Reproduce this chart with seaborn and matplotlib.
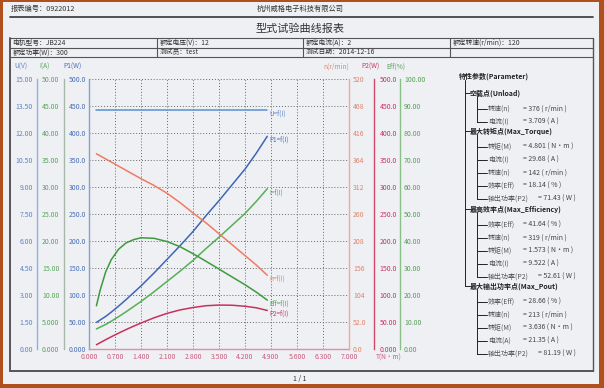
import numpy as np
import pandas as pd
import matplotlib
matplotlib.use("Agg")
import matplotlib.pyplot as plt
import seaborn as sns
from matplotlib.lines import Line2D
from matplotlib.patches import Rectangle

# ---------------- data ----------------
torque = [0.20, 0.30, 0.45, 0.60, 0.80, 1.00, 1.20, 1.40, 1.75, 2.10, 2.45, 2.80, 3.15, 3.50, 3.85, 4.20, 4.50, 4.80]
voltage = [13.27, 13.27, 13.27, 13.27, 13.27, 13.27, 13.27, 13.27, 13.27, 13.27, 13.27, 13.27, 13.27, 13.27, 13.27, 13.27, 13.27, 13.27]
current = [3.71, 4.05, 4.55, 5.15, 6.00, 6.90, 7.85, 8.80, 10.6, 12.5, 14.4, 16.4, 18.6, 20.7, 22.9, 25.1, 27.3, 29.68]
input_power = [49.2, 53.7, 60.4, 68.3, 79.6, 91.6, 104.2, 116.8, 140.7, 165.9, 191.1, 217.6, 246.8, 274.7, 303.9, 333.1, 362.3, 393.9]
speed = [376, 372, 366, 360, 352, 344, 336, 328, 315, 300, 282, 262, 243, 222, 201, 180, 162, 142]
output_power = [7.87, 11.69, 17.25, 22.62, 29.49, 36.02, 42.22, 48.09, 57.73, 65.97, 72.34, 76.82, 80.16, 81.37, 81.04, 79.17, 76.34, 71.38]
efficiency = [16.0, 21.8, 28.6, 33.1, 37.0, 39.3, 40.5, 41.2, 41.0, 39.8, 37.9, 35.3, 32.5, 29.6, 26.7, 23.8, 21.1, 18.1]

x_ticks = [0.0, 0.7, 1.4, 2.1, 2.8, 3.5, 4.2, 4.9, 5.6, 6.3, 7.0]
x_tick_labels = ["0.000", "0.700", "1.400", "2.100", "2.800", "3.500", "4.200", "4.900", "5.600", "6.300", "7.000"]
u_ticks = [0, 1.5, 3, 4.5, 6, 7.5, 9, 10.5, 12, 13.5, 15]
u_tick_labels = ["0.00", "1.50", "3.00", "4.50", "6.00", "7.50", "9.00", "10.50", "12.00", "13.50", "15.00"]
i_ticks = [0, 5, 10, 15, 20, 25, 30, 35, 40, 45, 50]
i_tick_labels = ["0.000", "5.000", "10.00", "15.00", "20.00", "25.00", "30.00", "35.00", "40.00", "45.00", "50.00"]
p1_ticks = [0, 50, 100, 150, 200, 250, 300, 350, 400, 450, 500]
p1_tick_labels = ["0.000", "50.00", "100.0", "150.0", "200.0", "250.0", "300.0", "350.0", "400.0", "450.0", "500.0"]
n_ticks = [0, 52, 104, 156, 208, 260, 312, 364, 416, 468, 520]
n_tick_labels = ["0.0", "52.0", "104", "156", "208", "260", "312", "364", "416", "468", "520"]
p2_ticks = [0, 50, 100, 150, 200, 250, 300, 350, 400, 450, 500]
p2_tick_labels = ["0.000", "50.00", "100.0", "150.0", "200.0", "250.0", "300.0", "350.0", "400.0", "450.0", "500.0"]
eff_ticks = [0, 10, 20, 30, 40, 50, 60, 70, 80, 90, 100]
eff_tick_labels = ["0.00", "10.00", "20.00", "30.00", "40.00", "50.00", "60.00", "70.00", "80.00", "90.00", "100.00"]

axis_titles = ["U(V)", "I(A)", "P1(W)", "n(r/min)", "P2(W)", "Eff(%)"]
curve_names = ["U=f(I)", "P1=f(I)", "I=f(I)", "n=f(I)", "Eff=f(I)", "P2=f(I)"]
x_title = "T(N·m)"

report_no = "报表编号：0922012"
company = "杭州威格电子科技有限公司"
title = "型式试验曲线报表"
table_rows = [
    ["电机型号：JB224", "额定电压(V)：12", "额定电流(A)：2", "额定转速(r/min)：120"],
    ["额定功率(W)：300", "测试员：test", "测试日期：2014-12-16", ""],
]
page_label = "1 / 1"

param_title = "特性参数(Parameter)"
param_groups = ["空载点(Unload)", "最大转矩点(Max_Torque)", "最高效率点(Max_Efficiency)", "最大输出功率点(Max_Pout)"]
param_items = [
    [("转速(n)", "= 376 ( r/min )"), ("电流(I)", "= 3.709 ( A )")],
    [("转矩(M)", "= 4.801 ( N·m )"), ("电流(I)", "= 29.68 ( A )"), ("转速(n)", "= 142 ( r/min )"),
     ("效率(Eff)", "= 18.14 ( % )"), ("输出功率(P2)", "= 71.43 ( W )")],
    [("效率(Eff)", "= 41.64 ( % )"), ("转速(n)", "= 319 ( r/min )"), ("转矩(M)", "= 1.573 ( N·m )"),
     ("电流(I)", "= 9.522 ( A )"), ("输出功率(P2)", "= 52.61 ( W )")],
    [("效率(Eff)", "= 28.66 ( % )"), ("转速(n)", "= 213 ( r/min )"), ("转矩(M)", "= 3.636 ( N·m )"),
     ("电流(A)", "= 21.35 ( A )"), ("输出功率(P2)", "= 81.19 ( W )")],
]

# ---------------- style ----------------
sns.set_style("white")
plt.rcParams["font.family"] = ["Noto Sans CJK SC", "DejaVu Sans"]
plt.rcParams["axes.unicode_minus"] = False

W, H = 604, 388
fig = plt.figure(figsize=(W / 100, H / 100), dpi=100)
fig.patch.set_facecolor("#b0501f")


def fx(x):
    return x / W


def fy(y):
    return 1 - y / H


def hline(x0, x1, y, color="#555555", lw=0.8):
    fig.add_artist(Line2D([fx(x0), fx(x1)], [fy(y), fy(y)], transform=fig.transFigure, color=color, lw=lw))


def vline(x, y0, y1, color="#555555", lw=0.8):
    fig.add_artist(Line2D([fx(x), fx(x)], [fy(y0), fy(y1)], transform=fig.transFigure, color=color, lw=lw))


# page
fig.add_artist(Rectangle((fx(3), fy(384)), (599 - 3) / W, (384 - 2) / H, transform=fig.transFigure,
                         facecolor="#eef0f4", edgecolor="none", zorder=-5))

TXT = "#333333"
fig.text(fx(11), fy(9), report_no, fontsize=5.2, color=TXT, va="center", ha="left")
fig.text(fx(300), fy(9), company, fontsize=5.2, color=TXT, va="center", ha="center")
hline(10, 593, 16.5, color="#444444", lw=1.3)
fig.text(fx(300), fy(28.5), title, fontsize=8.0, color=TXT, va="center", ha="center")

# table + box
tab_top, tab_mid, tab_bot, box_bot = 37.5, 47.5, 57.0, 371
col_x = [10, 157, 303, 450, 593]
hline(10, 593, tab_top)
hline(10, 593, tab_mid)
hline(10, 593, tab_bot)
hline(10, 593, box_bot, color="#555555", lw=1.4)
vline(10, tab_top, box_bot, lw=1.4)
vline(593, tab_top, box_bot, lw=1.0)
for cx in col_x[1:-1]:
    vline(cx, tab_top, tab_bot)
for r, row in enumerate(table_rows):
    yy = (tab_top + tab_mid) / 2 if r == 0 else (tab_mid + tab_bot) / 2
    for c, s in enumerate(row):
        if s:
            fig.text(fx(col_x[c] + 2.5), fy(yy), s, fontsize=4.9, color=TXT, va="center", ha="left")
fig.text(fx(300), fy(379), page_label, fontsize=5, color=TXT, va="center", ha="center")

# ---------------- chart ----------------
L, R, T_, B = 89, 349, 79, 349
rect = [fx(L), fy(B), (R - L) / W, (B - T_) / H]
ax = fig.add_axes(rect)
ax.set_facecolor("none")

C_U, C_I, C_P1 = "#5b8fd6", "#55b055", "#3f66b5"
C_N, C_P2, C_E = "#ef7b64", "#c8325a", "#3e9a3e"
L_U, L_I, L_P1 = "#5d84c8", "#5aa55a", "#4a6fb5"
L_N, L_P2, L_E = "#e0846a", "#c8365a", "#5a9e5a"

FS = 5.0


def side_axis(ylim, ticks, labels, side, pos, spine_color, label_color, pad):
    a = fig.add_axes(rect, sharex=ax)
    a.set_facecolor("none")
    a.patch.set_visible(False)
    for s in a.spines.values():
        s.set_visible(False)
    a.spines[side].set_visible(True)
    a.spines[side].set_color(spine_color)
    a.spines[side].set_linewidth(1.0)
    a.spines[side].set_position(("axes", pos))
    a.yaxis.set_ticks_position(side)
    a.xaxis.set_visible(False)
    a.set_ylim(*ylim)
    a.set_yticks(ticks, labels=labels)
    a.tick_params(axis="y", length=0, pad=pad, labelsize=FS, labelcolor=label_color)
    a.grid(False)
    return a


# P1 axis = main axis (left edge of the plot)
ax.set_xlim(0, 7)
ax.set_ylim(0, 500)
ax.set_xticks(x_ticks, labels=x_tick_labels)
ax.set_yticks(p1_ticks, labels=p1_tick_labels)
ax.tick_params(axis="y", length=0, pad=2.2, labelsize=FS, labelcolor=L_P1)
ax.tick_params(axis="x", length=0, pad=3.0, labelsize=FS, labelcolor="#d05a7a")
ax.grid(True, linestyle=(0, (1.0, 2.0)), color="#666666", lw=0.7)
for s in ["top", "right"]:
    ax.spines[s].set_visible(False)
ax.spines["left"].set_color("#8aa0c8")
ax.spines["left"].set_linewidth(1.0)
ax.spines["bottom"].set_color("#e58aa0")
ax.spines["bottom"].set_linewidth(1.0)

aU = side_axis((0, 15), u_ticks, u_tick_labels, "left", -0.2, "#8fb0e0", L_U, 2.9)
aI = side_axis((0, 50), i_ticks, i_tick_labels, "left", -0.0962, "#a8b8a8", L_I, 3.4)
aN = side_axis((0, 520), n_ticks, n_tick_labels, "right", 1.0, "#f0a898", L_N, 2.9)
aP2 = side_axis((0, 500), p2_ticks, p2_tick_labels, "right", 1.0962, "#d04868", L_P2, 4.2)
aE = side_axis((0, 100), eff_ticks, eff_tick_labels, "right", 1.196, "#88c088", L_E, 2.9)

LW = 1.1
sns.lineplot(x=torque, y=voltage, ax=aU, color=C_U, lw=LW)
sns.lineplot(x=torque, y=input_power, ax=ax, color=C_P1, lw=LW)
sns.lineplot(x=torque, y=current, ax=aI, color=C_I, lw=LW)
sns.lineplot(x=torque, y=speed, ax=aN, color=C_N, lw=LW)
sns.lineplot(x=torque, y=efficiency, ax=aE, color=C_E, lw=LW)
sns.lineplot(x=torque, y=output_power, ax=aP2, color=C_P2, lw=LW)
for a, lim in [(aU, (0, 15)), (ax, (0, 500)), (aI, (0, 50)), (aN, (0, 520)), (aE, (0, 100)), (aP2, (0, 500))]:
    a.set_ylim(*lim)
ax.set_xlim(0, 7)

# curve end labels
end_axes = [aU, ax, aI, aN, aE, aP2]
end_vals = [voltage[-1], input_power[-1], current[-1], speed[-1], efficiency[-1], output_power[-1]]
end_cols = [L_U, L_P1, L_I, L_N, L_E, L_P2]
for a, v, c, name in zip(end_axes, end_vals, end_cols, curve_names):
    a.annotate(name, xy=(torque[-1], v), xytext=(1.5, -2.5), textcoords="offset points",
               fontsize=4.6, color=c, va="center", ha="left")

# axis titles
title_x = [21, 45, 73, 336, 370, 396]
title_cols = [L_U, L_I, L_P1, L_N, L_P2, L_E]
for s, xx, c in zip(axis_titles, title_x, title_cols):
    fig.text(fx(xx), fy(66.5), s, fontsize=4.8, color=c, va="center", ha="center")
fig.text(fx(389), fy(357.5), x_title, fontsize=4.8, color="#d05a7a", va="center", ha="center")

# ---------------- parameter tree ----------------
TREE = "#222222"
fig.text(fx(459), fy(76), param_title, fontsize=5.0, color=TREE, weight="bold", va="center", ha="left")
group_y = [93, 131, 209, 286]
main_x, sub_x, head_x, item_x = 465, 477, 470, 488
vline(main_x, 80, group_y[-1], color=TREE, lw=0.7)
for g, (gname, gy) in enumerate(zip(param_groups, group_y)):
    hline(main_x, head_x - 0.5, gy, color=TREE, lw=0.7)
    fig.text(fx(head_x), fy(gy), gname, fontsize=5.0, color=TREE, weight="bold", va="center", ha="left")
    ys = [gy + 16 + 13 * k for k in range(len(param_items[g]))]
    vline(sub_x, gy + 3, ys[-1], color=TREE, lw=0.7)
    for (lab, val), yy in zip(param_items[g], ys):
        hline(sub_x, item_x - 1, yy, color=TREE, lw=0.7)
        fig.text(fx(item_x), fy(yy), lab, fontsize=5.0, color="#555555", va="center", ha="left")
        vx = 538 if "P2" in lab else 523
        fig.text(fx(vx), fy(yy), val, fontsize=5.0, color="#444444", va="center", ha="left")

fig.savefig("out.png", dpi=100, facecolor=fig.get_facecolor())
